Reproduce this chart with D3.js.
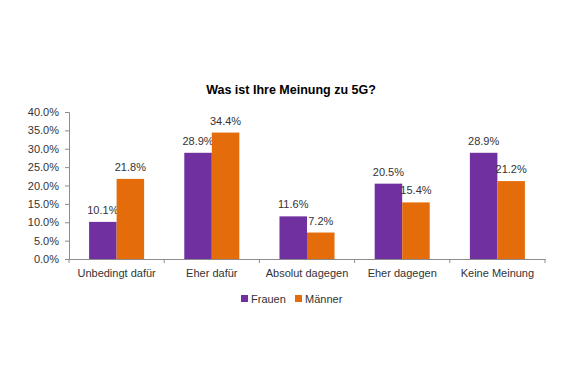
<!DOCTYPE html>
<html>
<head>
<meta charset="utf-8">
<script src="https://cdn.jsdelivr.net/npm/d3@7"></script>
<style>
  body { margin: 0; background: #fff; }
  svg text { font-family: "Liberation Sans", Arial, sans-serif; fill: #333; }
</style>
</head>
<body>
<svg id="chart" width="580" height="392"></svg>
<script>
var categories = ['Unbedingt dafür', 'Eher dafür', 'Absolut dagegen', 'Eher dagegen', 'Keine Meinung'];
var seriesNames = ['Frauen', 'Männer'];
var frauen = [10.1, 28.9, 11.6, 20.5, 28.9];
var maenner = [21.8, 34.4, 7.2, 15.4, 21.2];
var yTicks = [0, 5, 10, 15, 20, 25, 30, 35, 40];
var colors = ['#7030A0', '#E46C0A'];

(function() {
  var svg = d3.select('#chart');
  var plotLeft = 69, plotRight = 545, plotTop = 112, plotBottom = 259;

  var x = d3.scaleBand().domain(categories).range([plotLeft, plotRight]);
  var inner = d3.scaleBand().domain(seriesNames).range([0, x.bandwidth()]).paddingOuter(0.73);
  var y = d3.scaleLinear().domain([0, 40]).range([plotBottom, plotTop]);

  // title
  svg.append('text')
    .attr('x', 291).attr('y', 94)
    .attr('text-anchor', 'middle')
    .style('font-size', '12.5px').style('font-weight', 'bold').style('fill', '#000')
    .text('Was ist Ihre Meinung zu 5G?');

  // y axis
  var yAxis = svg.append('g')
    .attr('transform', 'translate(' + plotLeft + ',0)')
    .call(d3.axisLeft(y).tickValues(yTicks).tickSize(4).tickPadding(6)
      .tickFormat(function(d) { return d.toFixed(1) + '%'; }));
  yAxis.selectAll('path, line').attr('stroke', '#8c8c8c');
  yAxis.selectAll('text').style('font-size', '11px').style('fill', '#333').attr('font-family', null);

  // x axis
  var xAxis = svg.append('g')
    .attr('transform', 'translate(0,' + plotBottom + ')')
    .call(d3.axisBottom(x).tickSize(0).tickPadding(10));
  xAxis.select('.domain').attr('stroke', '#8c8c8c');
  xAxis.selectAll('text').style('font-size', '11px').style('fill', '#333').attr('font-family', null);
  // category separator ticks
  xAxis.selectAll('line.sep')
    .data(categories.map(function(c) { return x(c); }).concat([plotRight]))
    .enter().append('line')
    .attr('class', 'sep')
    .attr('x1', function(d) { return d; }).attr('x2', function(d) { return d; })
    .attr('y1', 0).attr('y2', 4)
    .attr('stroke', '#8c8c8c');

  // bars
  var series = [frauen, maenner];
  series.forEach(function(vals, si) {
    var g = svg.append('g');
    g.selectAll('rect')
      .data(vals)
      .enter().append('rect')
      .attr('x', function(d, i) { return x(categories[i]) + inner(seriesNames[si]); })
      .attr('y', function(d) { return y(d); })
      .attr('width', inner.bandwidth())
      .attr('height', function(d) { return plotBottom - y(d); })
      .attr('fill', colors[si]);
    g.selectAll('text')
      .data(vals)
      .enter().append('text')
      .attr('x', function(d, i) { return x(categories[i]) + inner(seriesNames[si]) + inner.bandwidth() / 2; })
      .attr('y', function(d) { return y(d) - 8; })
      .attr('text-anchor', 'middle')
      .style('font-size', '11px')
      .text(function(d) { return d.toFixed(1) + '%'; });
  });

  // legend
  var legend = svg.append('g').attr('transform', 'translate(241,299)');
  var legendX = [0, 54];
  seriesNames.forEach(function(name, i) {
    legend.append('rect')
      .attr('x', legendX[i]).attr('y', -4)
      .attr('width', 7).attr('height', 7)
      .attr('fill', colors[i]);
    legend.append('text')
      .attr('x', legendX[i] + 10).attr('y', 4)
      .style('font-size', '11px')
      .text(name);
  });
})();
</script>
</body>
</html>
